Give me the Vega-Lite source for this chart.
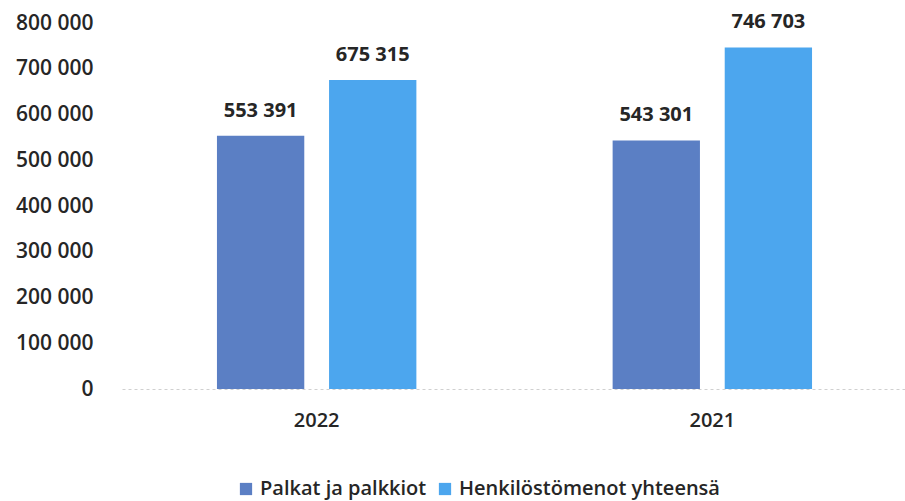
{
  "$schema": "https://vega.github.io/schema/vega-lite/v6.json",
  "width": 785,
  "height": 366,
  "autosize": {"type": "none"},
  "padding": {"left": 122, "top": 23, "right": 0, "bottom": 112},
  "background": "white",
  "config": {
    "view": {"stroke": null},
    "font": "Open Sans",
    "locale": {"number": {"decimal": ",", "thousands": " ", "grouping": [3], "currency": ["", " €"]}}
  },
  "data": {
    "values": [
      {"year": "2022", "series": "Palkat ja palkkiot", "value": 553391},
      {"year": "2022", "series": "Henkilöstömenot yhteensä", "value": 675315},
      {"year": "2021", "series": "Palkat ja palkkiot", "value": 543301},
      {"year": "2021", "series": "Henkilöstömenot yhteensä", "value": 746703}
    ]
  },
  "encoding": {
    "x": {
      "field": "year", "type": "nominal", "sort": ["2022", "2021"],
      "scale": {"paddingInner": 0.496, "paddingOuter": 0.24},
      "axis": {
        "title": null, "labelAngle": 0, "ticks": false,
        "labelFontSize": 20, "labelFontWeight": 600, "labelColor": "#262626", "labelPadding": 21,
        "domainColor": "#d0d0d0", "domainDash": [3, 3], "domainWidth": 1
      }
    },
    "xOffset": {
      "field": "series", "type": "nominal",
      "sort": ["Palkat ja palkkiot", "Henkilöstömenot yhteensä"],
      "scale": {"paddingInner": 0.221, "paddingOuter": 0}
    },
    "y": {
      "field": "value", "type": "quantitative",
      "scale": {"domain": [0, 800000], "nice": false},
      "axis": {
        "title": null, "values": [0, 100000, 200000, 300000, 400000, 500000, 600000, 700000, 800000],
        "format": ",.0f",
        "grid": false, "ticks": false, "domain": false,
        "labelFontSize": 21, "labelFontWeight": 600, "labelColor": "#262626", "labelPadding": 29
      }
    }
  },
  "layer": [
    {
      "mark": {"type": "bar"},
      "encoding": {
        "color": {
          "field": "series", "type": "nominal",
          "sort": ["Palkat ja palkkiot", "Henkilöstömenot yhteensä"],
          "scale": {"domain": ["Palkat ja palkkiot", "Henkilöstömenot yhteensä"], "range": ["#5b7fc4", "#4ca6ee"]},
          "legend": {
            "title": null, "orient": "none", "direction": "horizontal",
            "legendX": 114, "legendY": 456,
            "symbolType": "square", "symbolSize": 150, "symbolStrokeWidth": 0,
            "labelFontSize": 20, "labelFontWeight": 600, "labelColor": "#262626", "labelLimit": 400,
            "columnPadding": 8, "labelOffset": 4
          }
        }
      }
    },
    {
      "mark": {"type": "text", "baseline": "bottom", "dy": -15, "fontSize": 20, "fontWeight": "bold", "color": "#262626"},
      "encoding": {
        "text": {"field": "value", "type": "quantitative", "format": ",.0f"}
      }
    }
  ]
}
